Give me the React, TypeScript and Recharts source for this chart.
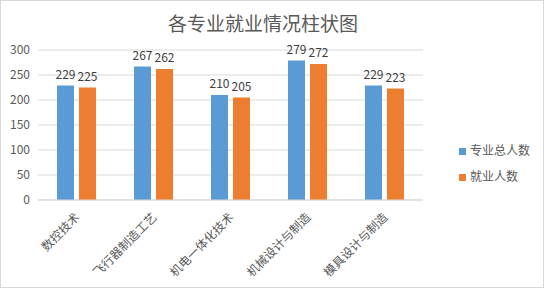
import React from "react"
import { BarChart, Bar, XAxis, YAxis, CartesianGrid, Legend, LabelList } from "recharts"

const majors = ["数控技术", "飞行器制造工艺", "机电一体化技术", "机械设计与制造", "模具设计与制造"]
const totalCounts = [229, 267, 210, 279, 229]
const employedCounts = [225, 262, 205, 272, 223]
const yTicks = [0, 50, 100, 150, 200, 250, 300]

const data = majors.map((name, i) => ({
  name,
  total: totalCounts[i],
  employed: employedCounts[i],
}))

const FONT = '"Noto Sans CJK SC", "Microsoft YaHei", sans-serif'

function AngledTick(props: any) {
  const { x, y, payload } = props
  return (
    <g transform={`translate(${x + 4},${y + 10})`}>
      <text
        textAnchor="end"
        transform="rotate(-45)"
        fill="#595959"
        fontSize={12}
        fontFamily={FONT}
      >
        {payload.value}
      </text>
    </g>
  )
}

export default function App() {
  return (
    <div
      style={{
        position: "absolute",
        left: 0,
        top: 0,
        width: 544,
        height: 288,
        background: "#fff",
        boxSizing: "border-box",
        border: "1px solid #d9d9d9",
        fontFamily: FONT,
      }}
    >
      <div
        style={{
          position: "absolute",
          top: 8,
          left: 0,
          width: 524,
          textAlign: "center",
          fontSize: 19,
          color: "#595959",
        }}
      >
        各专业就业情况柱状图
      </div>
      <BarChart
        width={542}
        height={286}
        data={data}
        margin={{ top: 49, right: 30, left: 7, bottom: 0 }}
        barGap={5}
      >
        <CartesianGrid vertical={false} stroke="#d9d9d9" />
        <XAxis
          dataKey="name"
          height={87}
          interval={0}
          tick={<AngledTick />}
          tickLine={false}
          axisLine={{ stroke: "#d9d9d9" }}
        />
        <YAxis
          width={30}
          domain={[0, 300]}
          ticks={yTicks}
          tickLine={false}
          axisLine={false}
          tick={{ fill: "#595959", fontSize: 12, fontFamily: FONT }}
        />
        <Legend
          layout="vertical"
          align="right"
          verticalAlign="middle"
          iconType="square"
          iconSize={7}
          wrapperStyle={{ left: 458, top: 136, width: 90, fontSize: 12, lineHeight: "26px" }}
          formatter={(v) => <span style={{ color: "#595959" }}>{v}</span>}
        />
        <Bar dataKey="total" name="专业总人数" fill="#5b9bd5" barSize={17} isAnimationActive={false}>
          <LabelList dataKey="total" position="top" offset={7} fill="#404040" fontSize={12} />
        </Bar>
        <Bar dataKey="employed" name="就业人数" fill="#ed7d31" barSize={17} isAnimationActive={false}>
          <LabelList dataKey="employed" position="top" offset={7} fill="#404040" fontSize={12} />
        </Bar>
      </BarChart>
    </div>
  )
}
